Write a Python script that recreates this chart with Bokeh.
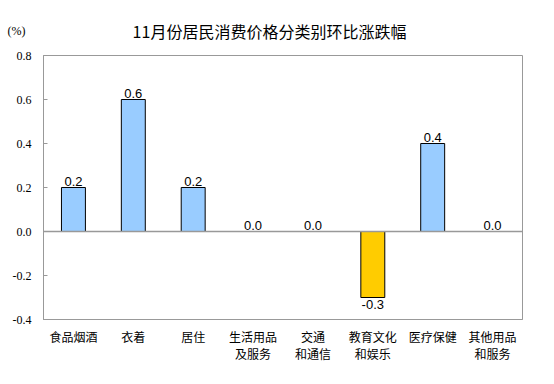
from bokeh.plotting import figure
from bokeh.layouts import column
from bokeh.models import Range1d, Span, FixedTicker, NumeralTickFormatter
from bokeh.core.properties import value
from bokeh.embed import file_html
from bokeh.resources import INLINE

title_text = "11月份居民消费价格分类别环比涨跌幅"
unit_text = "(%)"
categories = ["食品烟酒", "衣着", "居住", "生活用品\n及服务", "交通\n和通信",
              "教育文化\n和娱乐", "医疗保健", "其他用品\n和服务"]
values = [0.2, 0.6, 0.2, 0.0, 0.0, -0.3, 0.4, 0.0]
y_ticks = [-0.4, -0.2, 0.0, 0.2, 0.4, 0.6, 0.8]

POS_COLOR = "#99CCFF"
NEG_COLOR = "#FFCC00"
GRAY = "#999999"
CJK = "Noto Sans CJK SC"

# header: title as text, unit as the label of a one-tick axis on the left
head = figure(x_range=Range1d(0, 479), y_range=Range1d(0, 50),
              frame_width=479, frame_height=50,
              min_border_left=43, min_border_right=24, min_border_top=0, min_border_bottom=0,
              x_axis_type=None, output_backend="svg", toolbar_location=None, title=None)
head.outline_line_color = None
head.xgrid.visible = False
head.ygrid.visible = False
hy = head.yaxis[0]
hy.ticker = FixedTicker(ticks=[20])
hy.major_label_overrides = {20: unit_text}
hy.axis_line_color = None
hy.major_tick_line_color = None
hy.minor_tick_line_color = None
hy.major_tick_out = 0
hy.major_tick_in = 0
hy.major_label_standoff = 18
hy.major_label_text_font = "Liberation Serif"
hy.major_label_text_font_size = "12px"
hy.major_label_text_color = "black"
head.text(x=[226], y=[20], text=[title_text], text_align="center", text_baseline="middle",
          text_font=value(CJK), text_font_size="16px", text_color="black")

p = figure(x_range=categories, y_range=Range1d(-0.4, 0.8),
           frame_width=479, frame_height=264,
           min_border_left=43, min_border_right=24, min_border_top=5, min_border_bottom=57,
           output_backend="svg", toolbar_location=None, title=None)
p.background_fill_color = "white"
p.border_fill_color = "white"
p.outline_line_color = GRAY
p.outline_line_width = 1
p.xgrid.visible = False
p.ygrid.visible = False

colors = [POS_COLOR if v >= 0 else NEG_COLOR for v in values]
p.vbar(x=categories, top=values, bottom=0, width=0.4, fill_color=colors,
       line_color="black", line_width=1)

p.add_layout(Span(location=0, dimension="width", line_color=GRAY, line_width=1.5))

pos_x = [c for c, v in zip(categories, values) if v >= 0]
pos_v = [v for v in values if v >= 0]
neg_x = [c for c, v in zip(categories, values) if v < 0]
neg_v = [v for v in values if v < 0]
p.text(x=pos_x, y=pos_v, text=[f"{v:.1f}" for v in pos_v], text_align="center",
       text_baseline="bottom", y_offset=-2, text_font=value("Liberation Sans"),
       text_font_size="13px", text_color="black")
p.text(x=neg_x, y=neg_v, text=[f"{v:.1f}" for v in neg_v], text_align="center",
       text_baseline="top", y_offset=2, text_font=value("Liberation Sans"),
       text_font_size="13px", text_color="black")

ya = p.yaxis[0]
ya.ticker = FixedTicker(ticks=y_ticks)
ya.formatter = NumeralTickFormatter(format="0.0")
ya.axis_line_color = GRAY
ya.major_tick_line_color = GRAY
ya.major_tick_in = 4
ya.major_tick_out = 0
ya.minor_tick_line_color = None
ya.major_label_standoff = 12
ya.major_label_text_font = "Liberation Serif"
ya.major_label_text_font_size = "12px"
ya.major_label_text_color = "black"

xa = p.xaxis[0]
xa.axis_line_color = GRAY
xa.major_tick_line_color = None
xa.minor_tick_line_color = None
xa.major_tick_out = 0
xa.major_tick_in = 0
xa.major_label_standoff = 8
xa.major_label_text_font = CJK
xa.major_label_text_font_size = "12px"
xa.major_label_text_line_height = 1.0
xa.major_label_text_color = "black"

layout = column(head, p, spacing=0)
open("out.html", "w").write(file_html(layout, INLINE))
